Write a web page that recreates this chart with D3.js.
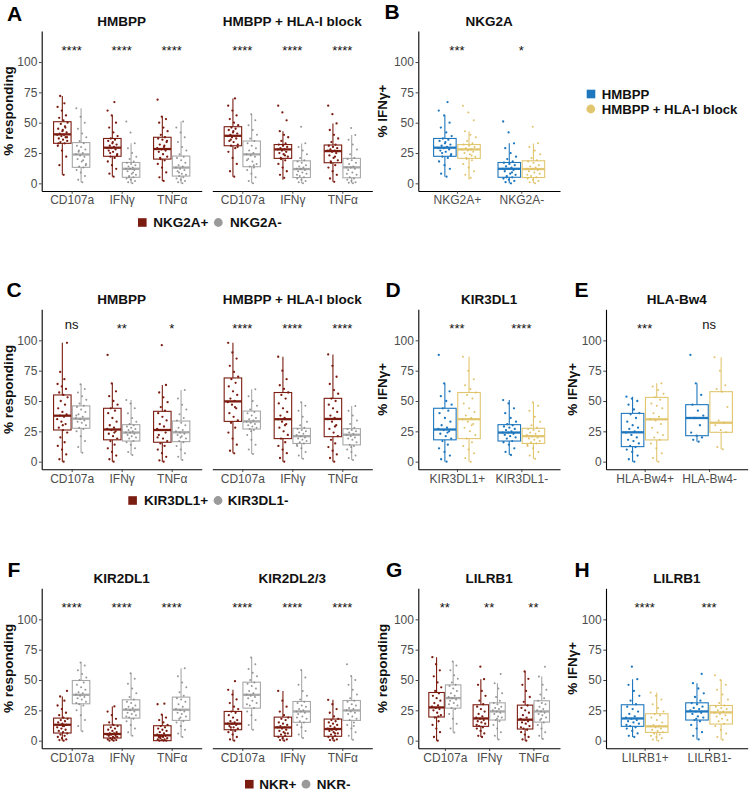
<!DOCTYPE html>
<html><head><meta charset="utf-8">
<script src="https://cdn.jsdelivr.net/npm/d3@7"></script>
<style>
body{margin:0;background:#fff}
svg{display:block}
text{font-family:"Liberation Sans",Arial,Helvetica,sans-serif}
</style>
</head><body>
<svg id="chart" width="750" height="791"></svg>
<script>
// ---------------- DATA ----------------
const funcCats = ["CD107a","IFNγ","TNFα"];
const nkg2aCats = ["NKG2A+","NKG2A-"];
const kir3Cats = ["KIR3DL1+","KIR3DL1-"];
const bw4Cats = ["HLA-Bw4+","HLA-Bw4-"];
const lilrCats = ["LILRB1+","LILRB1-"];
const yTicks = [0,25,50,75,100];

// box stats: [lower whisker, Q1, median, Q3, upper whisker] per category
// Panel A (NKG2A+ / NKG2A-)
const A_hm_pos_stats  = [[7,33,40.4,50.8,72],[5.5,22.3,29.4,37,56],[2,20,28.3,38,55]];
const A_hm_neg_stats  = [[1,13.2,23.8,33.6,62],[0,5,12,17.2,33],[0,6,13,22.5,51]];
const A_blk_pos_stats = [[5.5,31,39.2,46.7,70],[3,20.6,28,32,43],[1.3,17,26.6,31.6,49.4]];
const A_blk_neg_stats = [[0,13.7,23.9,34.9,57],[0,4.8,11.8,18.6,32.8],[0,4.6,13.2,20.6,39.8]];
// Panel C (KIR3DL1+ / KIR3DL1-)
const C_hm_pos_stats  = [[0,26.1,37.9,55,98],[0,18,26.5,44,64.5],[0,16,26.1,41.5,63.2]];
const C_hm_neg_stats  = [[7.4,27.5,35.4,46,63.8],[5.5,17,24,30.5,50.8],[1.4,16.5,24.2,33.5,59]];
const C_blk_pos_stats = [[6.9,33.2,49.7,69,98],[0,19,35,57,86.5],[0,20.6,35.2,52.2,88.4]];
const C_blk_neg_stats = [[6.3,26.9,33.2,41.7,59.6],[2.5,15,21,27.5,49],[1.4,13.8,22.2,27.2,45.9]];
// Panel F (NKR+ / NKR-)
const F_d1_pos_stats  = [[0,6.3,13.1,18.6,36.4],[0,2.2,5.5,12.9,28.2],[0,0,4.4,12.3,21.4]];
const F_d1_neg_stats  = [[7.7,30.4,37.8,49.6,64.4],[4.1,18.6,25.5,33.7,55.6],[3,16.7,25.5,35.9,59.7]];
const F_d23_pos_stats = [[0,9,14,24.1,41.9],[0,3.6,10.9,19.4,41],[0,3.6,9.6,17.8,33.7]];
const F_d23_neg_stats = [[9,26.8,37.8,48.2,68.5],[2.2,15.1,24.1,32.3,58.3],[0.8,16.7,24.9,33.1,53.4]];
// Panel G (LILRB1+ / LILRB1-)
const G_pos_stats = [[0,19.5,27.4,39.7,68.8],[3,11.8,18.3,29.6,50.7],[0,9.6,17.3,29.3,57]];
const G_neg_stats = [[6.8,26.8,35.1,46,65.2],[1,17,24.1,31.2,47.4],[1.4,15.3,24.1,32.9,52.9]];
// Panel E (HLA-Bw4)
const E_hm_stats  = [[0,12.4,24.2,39.8,53.6],[16.5,21.4,36,47,64.6]];
const E_blk_stats = [[0,17.9,34.9,53,64.6],[10.2,24.2,32.1,57.7,86]];
// Panel H yellow (HMBPP + HLA-I block)
const H_blk_stats = [[0,6.8,11.8,22.2,39.7],[0.8,13.7,23.3,29,50.1]];

// individual donor values (% responding)
const A_hm_pos_pts = [
 [7,15,22,27,31,33,34,35,36,37,38,39,40,40,41,42,43,45,47,49,50,52,54,56,60,63,66,72,38,44,33,46],
 [5.5,8,12,15,18,21,22,24,26,27,28,29,29,30,31,32,33,35,36,37,39,42,46,50,56,60,67,25,23,34],
 [2,5,9,13,16,19,20,22,24,26,27,28,29,30,32,34,36,37,38,40,43,46,50,53,55,69,31,21,35]];
const A_hm_neg_pts = [
 [1,3,6,9,11,13,14,16,18,20,22,23,24,25,26,28,30,31,33,35,38,41,45,50,55,62,19,27,15],
 [0,1,2,3,4,5,6,7,8,10,11,12,12,13,14,15,16,17,18,20,22,25,29,33,42,51,9,5],
 [0,1,2,3,4,5,6,7,8,10,11,12,13,14,15,17,19,21,22,24,27,30,34,38,42,46,51,9]];
const A_blk_pos_pts = [
 [5.5,10,16,21,26,29,31,32,34,35,37,38,39,39,40,41,42,44,45,46,48,50,53,56,60,64,70,36,30,43],
 [4.6,7,10,13,16,19,20,22,24,25,26,27,28,28,29,30,31,32,33,35,38,40,43,52,58.5,64,23,21],
 [1.3,4,7,10,13,15,17,19,21,23,25,26,27,27,28,29,30,31,32,34,37,40,44,49.4,57,64,22,18]];
const A_blk_neg_pts = [
 [0,2,5,8,11,13,14,16,18,20,22,23,24,25,27,29,31,33,35,37,40,44,48,52,57,19,15],
 [0,1,2,3,4,5,6,8,9,10,11,12,12,13,14,15,17,18,19,21,24,27,30,33,46.7,7],
 [0,0.5,1,2,3,4,5,7,9,11,12,13,13,14,16,17,19,20,21,24,28,32,36,39.8,45.6,8]];
const C_hm_pos_pts = [
 [0,2,6,10,13,16,20,24,26,28,31,33,35,37,38,39,41,44,47,50,53,55,57,60,62,64,68,74,98,30],
 [0,2,5,8,11,14,17,19,21,23,25,26,27,28,30,33,36,40,42,44,47,50,54,58,64.5,88,24],
 [0,1,4,7,10,13,15,17,19,22,24,26,27,29,31,34,37,40,42,45,49,53,57,63.2,96,20]];
const C_hm_neg_pts = [
 [7.4,12,17,21,25,27,28,30,32,33,34,35,36,37,39,41,43,45,46,48,51,54,57,60,63.8,38],
 [5.5,8,11,14,16,17,19,20,21,22,23,24,24,25,26,27,28,29,30,31,33,36,40,44,48,50.8],
 [1.4,4,7,10,13,16,17,19,21,22,23,24,25,26,28,30,32,34,36,39,43,47,52,59,20]];
const C_blk_pos_pts = [
 [6.9,9,14,19,24,28,32,34,37,40,44,47,49,50,52,55,58,62,65,68,70,74,79,85,90,98,45],
 [0,3,7,10,13,16,19,22,25,28,31,33,35,36,38,41,44,48,52,55,57,60,63,68,75,86.5,30],
 [0,3,6,9,12,15,18,21,24,27,30,33,35,36,38,41,44,47,50,52,56,59,64,70,79,88.4,29]];
const C_blk_neg_pts = [
 [6.3,10,14,18,22,26,27,28,29,30,31,32,33,34,35,36,38,40,41,43,46,50,54,59.6,25],
 [2.5,5,8,11,13,15,16,17,18,19,20,21,22,23,24,25,26,27,28,30,33,37,42,46,49,14],
 [1.4,3,5,8,10,13,14,16,18,19,20,21,22,23,24,25,26,27,28,31,34,38,42,45.9,12]];
const F_d1_pos_pts = [
 [0,0.5,1,2,3,4,5,6,7,8,9,10,11,12,13,13,14,15,16,17,18,19,21,23,26,29,33,36.4,41,12],
 [0,0,0.5,1,1,2,2,3,3,4,4,5,5,6,6,7,8,9,10,11,12,13,15,18,21,24,28.2,5],
 [0,0,0,0.5,1,1,2,2,3,3,4,4,5,6,7,8,9,10,11,12,13,15,17,19,21.4,30,30.5,3]];
const F_d1_neg_pts = [
 [7.7,12,17,21,25,29,30,32,34,35,36,37,38,39,40,42,44,46,48,50,52,55,58,62,64.4,31],
 [4.1,7,10,13,16,18,19,21,22,23,24,25,26,27,28,29,31,32,34,36,39,43,47,51,55.6,20],
 [3,6,9,12,15,16,18,20,22,23,24,25,26,28,30,32,34,35,37,40,44,48,53,59.7,19]];
const F_d23_pos_pts = [
 [0,1,3,5,7,8,9,10,11,12,13,14,14,15,16,17,19,21,23,24,26,28,31,34,38,41.9,49,11],
 [0,0.5,1,2,3,4,5,6,7,8,9,10,11,11,12,13,14,15,17,18,19,21,24,28,33,41,6],
 [0,0.5,1,2,3,4,5,6,7,8,9,9,10,11,12,13,14,15,16,17,18,20,23,26,30,33.7,6]];
const F_d23_neg_pts = [
 [9,13,17,21,24,27,29,31,33,35,36,37,38,39,41,43,45,47,48,50,53,56,59,63,68.5,30],
 [2.2,5,8,11,13,15,16,18,20,22,23,24,24,25,26,28,29,31,32,34,37,41,46,52,58.3,19],
 [0.8,4,7,10,13,15,17,18,20,22,23,24,25,26,27,29,30,32,33,35,38,42,46,50,53.4,63,12]];
const G_pos_pts = [
 [0,3,7,10,13,16,19,21,23,25,26,27,28,29,31,33,35,37,39,41,44,48,53,58,63,68.8,20],
 [3,4,6,8,10,11,12,14,15,16,17,18,19,20,22,24,26,28,30,33,37,41,46,50.7,61,13],
 [0,1,3,5,7,9,10,12,14,15,16,17,18,19,21,23,25,27,29,32,36,41,46,51,57,11]];
const G_neg_pts = [
 [6.8,10,14,18,22,26,27,29,31,33,34,35,36,37,39,41,43,45,46,48,51,54,58,62,65.2,30],
 [1,4,7,10,13,16,17,19,20,22,23,24,25,26,27,28,30,31,33,36,39,43,47.4,55,18],
 [1.4,4,7,10,13,15,17,19,21,22,23,24,25,26,28,30,31,33,35,38,42,46,52.9,61,18]];
const E_hm_pts = [
 [0,2,5,8,10,12,13,15,17,18,20,22,24,25,27,28,30,33,36,39,40,43,47,50,52,53.6],
 [16.5,18,20,21.4,24,30,36,38,42,47,55,64.6,88]];
const E_blk_pts = [
 [0,3,7,11,15,18,20,22,24,28,31,34,35,37,40,44,46,48,51,53,56,59,62,64.6],
 [10.2,12,24.2,26,30,32.1,34,45,57.7,60,63,75,86]];
const H_blk_pts = [
 [0,1,2,3,4,5,6,7,8,9,10,11,12,12,13,15,17,19,21,22,24,27,30,34,37,39.7],
 [0.8,3,6,9,12,14,16,17,18,20,21,22,23,24,25,26,27,28,29,31,34,38,42,46,50.1,54]];

// significance labels
const A_sig = ["****","****","****"], A2_sig = ["****","****","****"];
const B_sig = ["***","*"];
const C_sig = ["ns","**","*"], C2_sig = ["****","****","****"];
const D_sig = ["***","****"];
const E_sig = ["***","ns"];
const F_sig = ["****","****","****"], F2_sig = ["****","****","****"];
const G_sig = ["**","**","**"];
const H_sig = ["****","***"];

// ---------------- STYLE ----------------
const COL = {
  pos:"#7B1C11", posPt:"#7B1C11",
  neg:"#A8A8A8", negPt:"#8C8C8C",
  hm:"#1F77BE", hmPt:"#1F77BE",
  blk:"#E1C66F", blkPt:"#DDBF62"
};
const svg = d3.select("#chart");
const ROW = [31, 309.3, 588.3];
const PH = 160;
const FONT = '"Liberation Sans",Arial,Helvetica,sans-serif';

function facet(o){
  const top = o.top;
  const y = d3.scaleLinear().domain([-6.3,125.6]).range([top+PH, top]);
  const x = d3.scalePoint().domain(o.cats).range([o.x0,o.x1]).padding(0.6);
  const step = x.step();
  const g = svg.append("g");

  const xa = g.append("g").attr("transform",`translate(0,${top+PH})`)
    .call(d3.axisBottom(x).tickSize(2.75).tickSizeOuter(0).tickPadding(2.2));
  xa.select(".domain").attr("stroke","#000").attr("stroke-width",1.1);
  xa.selectAll(".tick line").attr("stroke","#333").attr("stroke-width",0.9);
  xa.selectAll(".tick text").attr("fill","#4D4D4D").style("font-size","12px").style("font-family",FONT);
  if(o.yAxis){
    const ya = g.append("g").attr("transform",`translate(${o.x0},0)`)
      .call(d3.axisLeft(y).tickValues(yTicks).tickSize(2.75).tickSizeOuter(0).tickPadding(1.6));
    ya.select(".domain").attr("stroke","#000").attr("stroke-width",1.1);
    ya.selectAll(".tick line").attr("stroke","#333").attr("stroke-width",0.9);
    ya.selectAll(".tick text").attr("fill","#4D4D4D").style("font-size","12px").style("font-family",FONT);
  }
  xa.raise();

  const bw = 0.35*step, jw = 0.11*step;
  const boxes = g.append("g"), pts = g.append("g");
  o.series.forEach((s,si)=>{
    const off = (si===0?-1:1)*0.1875*step;
    o.cats.forEach((c,ci)=>{
      const st = s.stats[ci], cx = x(c)+off;
      boxes.append("line").attr("x1",cx).attr("x2",cx).attr("y1",y(st[0])).attr("y2",y(st[1]))
        .attr("stroke",s.color).attr("stroke-width",1.1);
      boxes.append("line").attr("x1",cx).attr("x2",cx).attr("y1",y(st[3])).attr("y2",y(st[4]))
        .attr("stroke",s.color).attr("stroke-width",1.1);
      boxes.append("rect").attr("x",cx-bw/2).attr("y",y(st[3])).attr("width",bw)
        .attr("height",y(st[1])-y(st[3])).attr("fill","#fff").attr("stroke",s.color).attr("stroke-width",1.1);
      boxes.append("line").attr("x1",cx-bw/2).attr("x2",cx+bw/2).attr("y1",y(st[2])).attr("y2",y(st[2]))
        .attr("stroke",s.color).attr("stroke-width",2.3);
      pts.selectAll(null).data(s.pts[ci]).enter().append("circle")
        .attr("cx",(d,i)=>cx + (((i+1)*0.6180339887)%1 - 0.5)*2*jw)
        .attr("cy",d=>y(d)).attr("r",s.r)
        .attr("fill",s.ptColor).attr("fill-opacity",s.op);
    });
  });

  o.cats.forEach((c,ci)=>{
    const lab = o.sig[ci];
    const isStar = lab.indexOf("*")>=0;
    g.append("text").attr("x",x(c)).attr("y",top + (isStar?23.6:19.8))
      .attr("text-anchor","middle").style("font-size","13px").attr("fill","#111").text(lab);
  });

  g.append("text").attr("x",(o.x0+o.x1)/2).attr("y",top-5).attr("text-anchor","middle")
    .style("font-size","13.5px").style("font-weight","bold").attr("fill","#111").text(o.title);
}

function ytitle(xb, top, label){
  svg.append("text").attr("transform",`translate(${xb},${top+PH/2}) rotate(-90)`)
    .attr("text-anchor","middle").style("font-size","13.5px").style("font-weight","bold")
    .attr("fill","#111").text(label);
}
function letter(x,y,t){
  svg.append("text").attr("x",x).attr("y",y).style("font-size","21px").style("font-weight","bold")
    .attr("fill","#000").text(t);
}
function legendRow(cy, items, fs){
  fs = fs || 13.5;
  items.forEach(it=>{
    if(it.shape==="sq") svg.append("rect").attr("x",it.x).attr("y",cy-4.3).attr("width",8.6).attr("height",8.6).attr("fill",it.color);
    else svg.append("circle").attr("cx",it.x+4.3).attr("cy",cy).attr("r",4.4).attr("fill",it.color);
    svg.append("text").attr("x",it.tx).attr("y",cy+fs*0.36).style("font-size",fs+"px").style("font-weight","bold")
      .attr("fill","#111").text(it.label);
  });
}

const sPos = (stats,pts)=>({stats,pts,color:COL.pos,ptColor:COL.posPt,r:1.15,op:1});
const sNeg = (stats,pts)=>({stats,pts,color:COL.neg,ptColor:COL.negPt,r:1.0,op:0.9});
const sHm  = (stats,pts)=>({stats,pts,color:COL.hm,ptColor:COL.hmPt,r:1.15,op:1});
const sBlk = (stats,pts)=>({stats,pts,color:COL.blk,ptColor:COL.blkPt,r:1.0,op:0.95});

// ---------------- Row 1 ----------------
facet({x0:41.7,x1:201.7,top:ROW[0],cats:funcCats,yAxis:true,title:"HMBPP",sig:A_sig,
  series:[sPos(A_hm_pos_stats,A_hm_pos_pts), sNeg(A_hm_neg_stats,A_hm_neg_pts)]});
facet({x0:212.3,x1:372.3,top:ROW[0],cats:funcCats,yAxis:false,title:"HMBPP + HLA-I block",sig:A2_sig,
  series:[sPos(A_blk_pos_stats,A_blk_pos_pts), sNeg(A_blk_neg_stats,A_blk_neg_pts)]});
facet({x0:418.3,x1:560,top:ROW[0],cats:nkg2aCats,yAxis:true,title:"NKG2A",sig:B_sig,
  series:[sHm([A_hm_pos_stats[1],A_hm_neg_stats[1]],[A_hm_pos_pts[1],A_hm_neg_pts[1]]),
          sBlk([A_blk_pos_stats[1],A_blk_neg_stats[1]],[A_blk_pos_pts[1],A_blk_neg_pts[1]])]});
ytitle(13,ROW[0],"% responding");
ytitle(387,ROW[0],"% IFNγ+");
letter(7,21,"A"); letter(384.5,18.5,"B");
legendRow(222.5,[{shape:"sq",x:138,tx:153.3,color:COL.pos,label:"NKG2A+"},
                 {shape:"ci",x:214,tx:230,color:"#9A9A9A",label:"NKG2A-"}]);
legendRow(94,[{shape:"sq",x:586.7,tx:601.7,color:COL.hm,label:"HMBPP"}],13.2);
legendRow(109,[{shape:"ci",x:586.5,tx:601.7,color:COL.blk,label:"HMBPP + HLA-I block"}],13.2);

// ---------------- Row 2 ----------------
facet({x0:41.7,x1:201.7,top:ROW[1],cats:funcCats,yAxis:true,title:"HMBPP",sig:C_sig,
  series:[sPos(C_hm_pos_stats,C_hm_pos_pts), sNeg(C_hm_neg_stats,C_hm_neg_pts)]});
facet({x0:212.3,x1:372.3,top:ROW[1],cats:funcCats,yAxis:false,title:"HMBPP + HLA-I block",sig:C2_sig,
  series:[sPos(C_blk_pos_stats,C_blk_pos_pts), sNeg(C_blk_neg_stats,C_blk_neg_pts)]});
facet({x0:418.3,x1:560,top:ROW[1],cats:kir3Cats,yAxis:true,title:"KIR3DL1",sig:D_sig,
  series:[sHm([C_hm_pos_stats[1],C_hm_neg_stats[1]],[C_hm_pos_pts[1],C_hm_neg_pts[1]]),
          sBlk([C_blk_pos_stats[1],C_blk_neg_stats[1]],[C_blk_pos_pts[1],C_blk_neg_pts[1]])]});
facet({x0:606,x1:747.7,top:ROW[1],cats:bw4Cats,yAxis:true,title:"HLA-Bw4",sig:E_sig,
  series:[sHm(E_hm_stats,E_hm_pts), sBlk(E_blk_stats,E_blk_pts)]});
ytitle(13,ROW[1],"% responding");
ytitle(387,ROW[1],"% IFNγ+");
ytitle(576.5,ROW[1],"% IFNγ+");
letter(6.5,296.8,"C"); letter(385.5,296.8,"D"); letter(574.5,296.8,"E");
legendRow(500.5,[{shape:"sq",x:128.3,tx:144,color:COL.pos,label:"KIR3DL1+"},
                 {shape:"ci",x:213.7,tx:227.7,color:"#9A9A9A",label:"KIR3DL1-"}]);

// ---------------- Row 3 ----------------
facet({x0:41.7,x1:201.7,top:ROW[2],cats:funcCats,yAxis:true,title:"KIR2DL1",sig:F_sig,
  series:[sPos(F_d1_pos_stats,F_d1_pos_pts), sNeg(F_d1_neg_stats,F_d1_neg_pts)]});
facet({x0:212.3,x1:372.3,top:ROW[2],cats:funcCats,yAxis:false,title:"KIR2DL2/3",sig:F2_sig,
  series:[sPos(F_d23_pos_stats,F_d23_pos_pts), sNeg(F_d23_neg_stats,F_d23_neg_pts)]});
facet({x0:418.3,x1:560,top:ROW[2],cats:funcCats,yAxis:true,title:"LILRB1",sig:G_sig,
  series:[sPos(G_pos_stats,G_pos_pts), sNeg(G_neg_stats,G_neg_pts)]});
facet({x0:606,x1:747.7,top:ROW[2],cats:lilrCats,yAxis:true,title:"LILRB1",sig:H_sig,
  series:[sHm([G_pos_stats[1],G_neg_stats[1]],[G_pos_pts[1],G_neg_pts[1]]), sBlk(H_blk_stats,H_blk_pts)]});
ytitle(13,ROW[2],"% responding");
ytitle(387,ROW[2],"% responding");
ytitle(576.5,ROW[2],"% IFNγ+");
letter(7.5,577.3,"F"); letter(386,577.3,"G"); letter(574.5,577.3,"H");
legendRow(784.2,[{shape:"sq",x:245,tx:259.3,color:COL.pos,label:"NKR+"},
                 {shape:"ci",x:301.7,tx:316.7,color:"#9A9A9A",label:"NKR-"}]);
</script>
</body></html>
